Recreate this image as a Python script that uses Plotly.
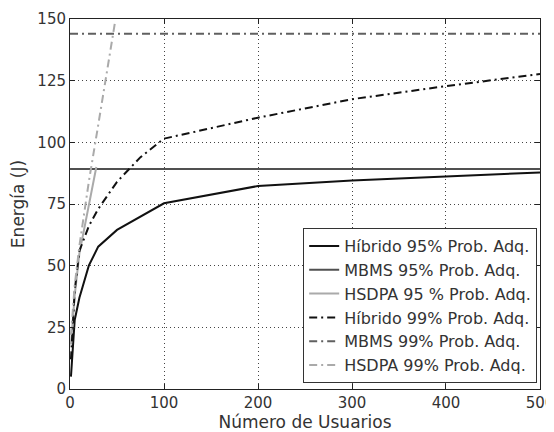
import plotly.graph_objects as go

# ---- data ----
x_hib95 = [1, 5, 10, 20, 30, 50, 100, 200, 300, 400, 500]
y_hib95 = [5, 28, 37, 50, 57.7, 64.5, 75.3, 82.3, 84.5, 86.2, 87.8]

x_mbms95 = [0, 500]
y_mbms95 = [89.2, 89.2]

x_hsdpa95 = [1, 5, 10, 20, 28]
y_hsdpa95 = [18, 38, 55, 74, 90]

x_hib99 = [1, 5, 10, 20, 30, 50, 75, 100, 200, 300, 400, 500]
y_hib99 = [12, 40, 56, 66, 73, 84, 94, 101.5, 110, 117.5, 122.8, 127.7]

x_mbms99 = [0, 500]
y_mbms99 = [144, 144]

x_hsdpa99 = [1, 5, 10, 20, 30, 40, 48]
y_hsdpa99 = [22, 42, 58, 84, 107, 131, 149]

names = ["Híbrido 95% Prob. Adq.", "MBMS 95% Prob. Adq.", "HSDPA 95 % Prob. Adq.",
         "Híbrido 99% Prob. Adq.", "MBMS 99% Prob. Adq.", "HSDPA 99% Prob. Adq."]

xt = [0, 100, 200, 300, 400, 500]
yt = [0, 25, 50, 75, 100, 125, 150]

FONT = "DejaVu Sans"
DD = "8px,4px,2px,4px"
TXT = "#333333"

series = [
    (x_hib95, y_hib95, "#111111", "solid", 2),
    (x_mbms95, y_mbms95, "#505050", "solid", 2),
    (x_hsdpa95, y_hsdpa95, "#aaaaaa", "solid", 2),
    (x_hib99, y_hib99, "#111111", DD, 2),
    (x_mbms99, y_mbms99, "#606060", DD, 2),
    (x_hsdpa99, y_hsdpa99, "#aaaaaa", DD, 2),
]

fig = go.Figure()
for i, (xs, ys, c, d, w) in enumerate(series):
    fig.add_trace(go.Scatter(x=xs, y=ys, mode="lines", name=names[i],
                             legendgroup=f"g{i}", cliponaxis=True,
                             line=dict(color=c, dash=d, width=w)))

axis_common = dict(
    showline=True, linecolor="#222222", linewidth=1, mirror="ticks",
    ticks="inside", ticklen=5, tickcolor="#222222",
    showgrid=True, gridcolor="#444444", griddash="1px,3px", gridwidth=1,
    zeroline=False, automargin=False, ticklabeloverflow="allow",
    tickfont=dict(family=FONT, size=15, color=TXT),
)

# page body has an 8px default margin, so the figure is sized to fit inside the window
fig.update_layout(
    width=546, height=424,
    margin=dict(l=62, r=14, t=11, b=43, autoexpand=False),
    paper_bgcolor="white", plot_bgcolor="white",
    font=dict(family=FONT, color=TXT),
    showlegend=True,
    legend=dict(x=0.994, y=0.016, xanchor="right", yanchor="bottom",
                bordercolor="#333333", borderwidth=1, bgcolor="white",
                font=dict(family=FONT, size=16, color=TXT),
                tracegroupgap=1, traceorder="normal"),
    xaxis=dict(range=[-0.01, 500.01], tickvals=xt, ticktext=[str(v) for v in xt],
               title=dict(text="Número de Usuarios", font=dict(family=FONT, size=17, color=TXT), standoff=2),
               **axis_common),
    yaxis=dict(range=[0, 150.01], tickvals=yt, ticktext=[str(v) for v in yt],
               title=dict(text="Energía (J)", font=dict(family=FONT, size=17, color=TXT), standoff=14),
               **axis_common),
)

fig.write_html("out.html")
